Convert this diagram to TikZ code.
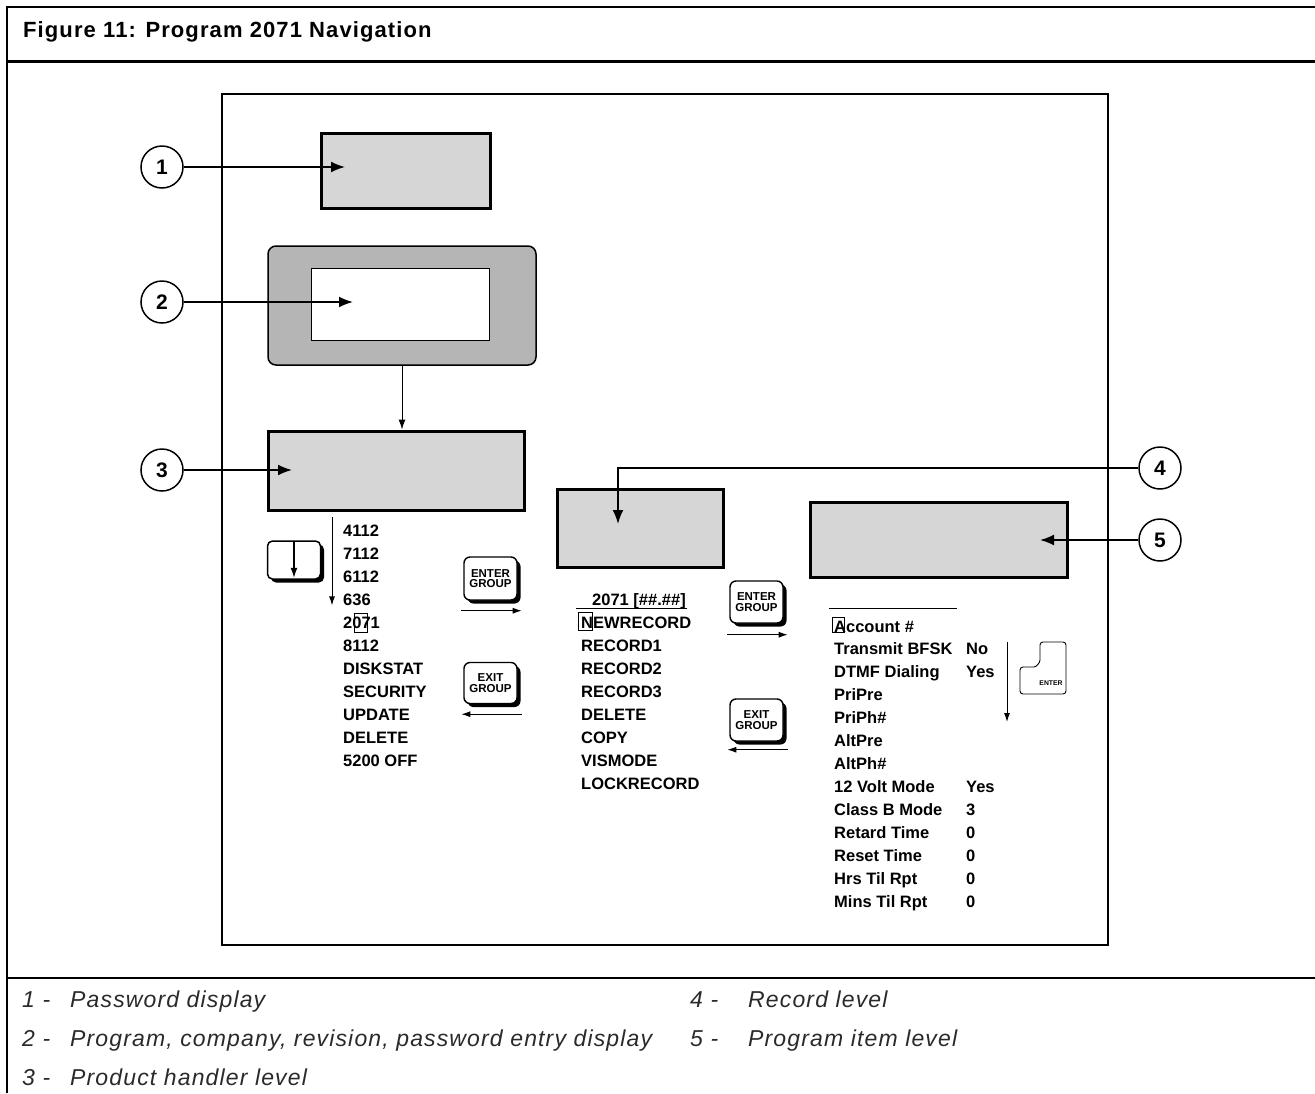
\documentclass[tikz,border=0pt]{standalone}
\usepackage{fontspec}
\setmainfont{Liberation Sans}
\newfontfamily\titlefont[LetterSpace=5]{Liberation Sans}
\newfontfamily\legendfont[LetterSpace=5]{Liberation Sans}
\usetikzlibrary{arrows.meta,positioning,shadows}
\definecolor{lcdgray}{HTML}{D6D6D6}
\definecolor{bezelgray}{HTML}{B5B5B5}
\definecolor{capgray}{HTML}{2A2A2A}

\begin{document}
\begin{tikzpicture}[x=1pt,y=-1pt,
    lcd/.style={draw,line width=3pt,fill=lcdgray,inner sep=0pt},
    callout/.style={circle,draw,line width=1.5pt,minimum size=42pt,inner sep=0pt,
      font=\bfseries\fontsize{21}{21}\selectfont},
    pointer/.style={line width=1.8pt,-{Latex[length=14pt,width=11pt]}},
    menu/.style={anchor=base west,inner sep=0pt,font=\bfseries\fontsize{16.5}{16.5}\selectfont},
    keycap/.style={draw,line width=1.4pt,fill=white,rounded corners=6pt,inner sep=0pt,
      align=center,font=\bfseries\fontsize{11.5}{10.5}\selectfont,
      drop shadow={shadow xshift=3.5pt,shadow yshift=-3.5pt,fill=black,opacity=1}},
    nav/.style={line width=1pt,-{Latex[length=9pt,width=6pt]}},
    legend/.style={anchor=base west,inner sep=0pt,text=capgray,
      font=\legendfont\itshape\fontsize{23}{23}\selectfont}]
  \useasboundingbox (0,0) rectangle (1315,1093);
  % outer figure frame
  \draw[line width=1.5pt] (1315,7) -- (7,7) -- (7,1093);
  \draw[line width=3pt] (7,61) -- (1315,61);
  \draw[line width=2pt] (7,978) -- (1315,978);
  \node[anchor=base west,inner sep=0pt,font=\titlefont\bfseries\fontsize{22}{22}\selectfont]
    (title) at (23,37) {Figure 11: Program 2071 Navigation};
  \draw[line width=1.5pt] (222,94) rectangle (1108,945);

  % displays
  \node[lcd,minimum width=169pt,minimum height=75pt] (pwd) at (405.5,170.5) {};
  \node[draw,line width=1.5pt,fill=bezelgray,rounded corners=8pt,
    minimum width=268pt,minimum height=119pt] (bezel) at (402,305.5) {};
  \node[draw,line width=1pt,fill=white,minimum width=178pt,minimum height=72pt] (entry) at (400.5,304) {};
  \node[lcd,minimum width=256pt,minimum height=79pt] (handler) at (396,470.5) {};
  \node[lcd,minimum width=166pt,minimum height=78pt] (record) at (640,528) {};
  \node[lcd,minimum width=257pt,minimum height=75pt] (item) at (938.5,539.5) {};
  \draw[line width=1pt,-{Latex[length=10pt,width=7pt]}] (bezel.south -| 402,0) -- (handler.north -| 402,0);

  % callouts
  \node[callout] (c1) at (162,167) {1};
  \node[callout] (c2) at (162,302) {2};
  \node[callout] (c3) at (162,470) {3};
  \node[callout] (c4) at (1160,468) {4};
  \node[callout] (c5) at (1160,540) {5};
  \coordinate (t1) at (345,167);
  \coordinate (t2) at (353,302);
  \coordinate (t3) at (292,470);
  \coordinate (t4) at (618,524);
  \coordinate (t5) at (1040,540);
  \draw[pointer] (c1) -- (t1);
  \draw[pointer] (c2) -- (t2);
  \draw[pointer] (c3) -- (t3);
  \draw[pointer] (c4) -| (t4);
  \draw[pointer] (c5) -- (t5);

  % product handler list
  \node[draw,line width=1.5pt,fill=white,rounded corners=5pt,minimum width=53pt,minimum height=38pt,
    drop shadow={shadow xshift=3.5pt,shadow yshift=-3.5pt,fill=black,opacity=1}] (downkey) at (294,560) {};
  \draw[line width=1.3pt,-{Latex[length=10pt,width=7pt]}] ([yshift=-2pt]downkey.north) -- ([yshift=2pt]downkey.south);
  \foreach \name [count=\i from 0] in {4112,7112,6112,636,2071,8112,DISKSTAT,SECURITY,UPDATE,DELETE,5200 OFF}
    \node[menu] (ph\i) at (343,536+23*\i) {\name};
  \draw[line width=0.8pt] (ph4.base west) ++(11,-15) rectangle ++(13,19);
  \draw[nav] ([xshift=-11pt,yshift=7pt]ph0.north west) -- ([xshift=-11pt]ph3.south west);

  \node[keycap,minimum width=53pt,minimum height=43pt] (enter1) at (490.5,578.5) {ENTER\\GROUP};
  \node[keycap,minimum width=53pt,minimum height=41pt] (exit1) at (490.5,683) {EXIT\\GROUP};
  \draw[nav] ([xshift=-2pt,yshift=-10pt]enter1.south west) -- ([xshift=4pt,yshift=-10pt]enter1.south east);
  \draw[nav] ([xshift=4pt,yshift=-10pt]exit1.south east) -- ([xshift=-2pt,yshift=-10pt]exit1.south west);

  % record list
  \node[menu] (rechead) at (592,605) {2071 [\#\#.\#\#]};
  \draw[line width=0.8pt] (rechead.base west) ++(-16,3) -- ++(111,0);
  \foreach \name [count=\i from 0] in {NEWRECORD,RECORD1,RECORD2,RECORD3,DELETE,COPY,VISMODE,LOCKRECORD}
    \node[menu] (rec\i) at (581,628+23*\i) {\name};
  \draw[line width=0.8pt] (rec0.base west) ++(-3,-16) rectangle ++(14,18);

  \node[keycap,minimum width=53pt,minimum height=42pt] (enter2) at (756.5,602) {ENTER\\GROUP};
  \node[keycap,minimum width=53pt,minimum height=42pt] (exit2) at (756.5,720) {EXIT\\GROUP};
  \draw[nav] ([xshift=-2pt,yshift=-11pt]enter2.south west) -- ([xshift=4pt,yshift=-11pt]enter2.south east);
  \draw[nav] ([xshift=4pt,yshift=-8pt]exit2.south east) -- ([xshift=-2pt,yshift=-8pt]exit2.south west);

  % program item list
  \foreach \name [count=\i from 0] in {Account \#,Transmit BFSK,DTMF Dialing,PriPre,PriPh\#,AltPre,AltPh\#,
      12 Volt Mode,Class B Mode,Retard Time,Reset Time,Hrs Til Rpt,Mins Til Rpt}
    \node[menu] (pi\i) at (834,632+22.92*\i) {\name};
  \foreach \val/\i in {No/1,Yes/2,Yes/7,3/8,0/9,0/10,0/11,0/12}
    \node[menu] (pv\i) at (966,632+22.92*\i) {\val};
  \draw[line width=0.8pt] (pi0.base west) ++(-5,-24) -- ++(128,0);
  \draw[line width=0.8pt] (pi0.base west) ++(-2,-15) rectangle ++(12,15);
  \coordinate (itemtop) at (1007,642);
  \coordinate (itembot) at (1007,722);
  \draw[nav] (itemtop) -- (itembot);
  \node[inner sep=0pt,font=\bfseries\fontsize{6.8}{6.8}\selectfont] (enterkey) at (1051,683) {ENTER};
  \draw[line width=0.9pt,rounded corners=3pt] (1020,667) -- (1031,667)
    .. controls (1036,667) and (1040,663) .. (1040,657) -- (1040,642) -- (1066,642)
    -- (1066,694) -- (1020,694) -- cycle;

  % legend
  \node[legend] (n1) at (22,1007) {1 -};
  \node[legend] (l1) at (70,1007) {Password display};
  \node[legend] (n2) at (22,1046) {2 -};
  \node[legend] (l2) at (70,1046) {Program, company, revision, password entry display};
  \node[legend] (n3) at (22,1085) {3 -};
  \node[legend] (l3) at (70,1085) {Product handler level};
  \node[legend] (n4) at (690,1007) {4 -};
  \node[legend] (l4) at (748,1007) {Record level};
  \node[legend] (n5) at (690,1046) {5 -};
  \node[legend] (l5) at (748,1046) {Program item level};
\end{tikzpicture}
\end{document}
